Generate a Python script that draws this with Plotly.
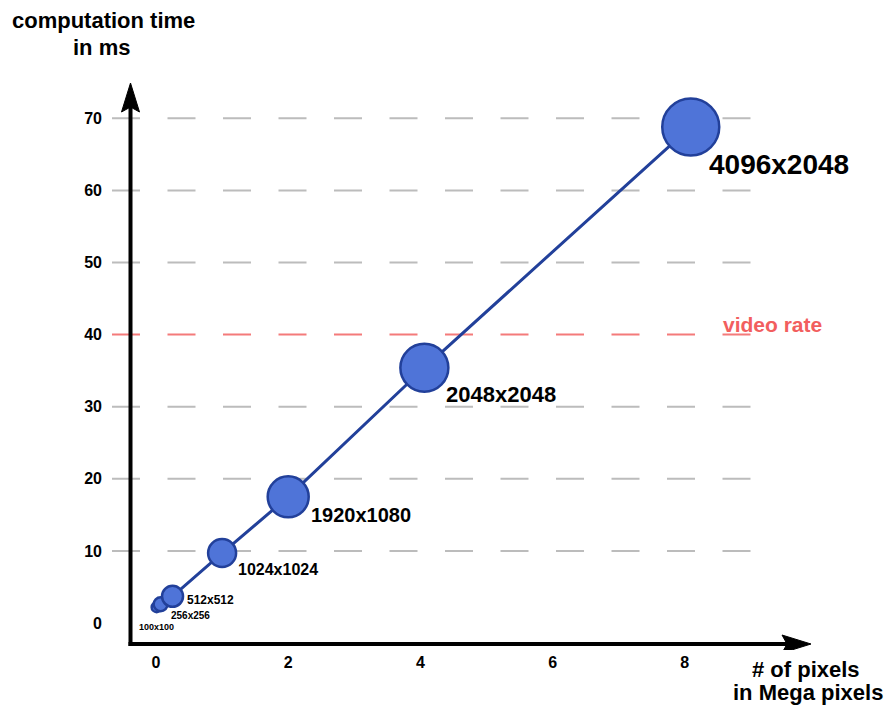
import plotly.graph_objects as go

# ---------------- data ----------------
resolutions = ["100x100", "256x256", "512x512", "1024x1024", "1920x1080", "2048x2048", "4096x2048"]
megapixels = [0.01, 0.07, 0.25, 1.0, 2.0, 4.06, 8.09]
time_ms = [2.2, 2.6, 3.7, 9.7, 17.5, 35.4, 68.8]
x_ticks = [0, 2, 4, 6, 8]
y_ticks = [0, 10, 20, 30, 40, 50, 60, 70]
grid_values = [10, 20, 30, 50, 60, 70]
video_rate = 40

# ---------------- styles ----------------
W, H = 888, 713
ML, MR, MT, MB = 110, 40, 60, 63
X0PX, XS = 156.0, 66.1     # pixel of x=0, pixels per unit
Y0PX, YS = 623.0, 7.21     # pixel of y=0, pixels per unit

def dx(p):
    return (p - X0PX) / XS

def dy(p):
    return (Y0PX - p) / YS

def pxp(p):
    return (p - ML) / (W - ML - MR)

def pyp(p):
    return (H - MB - p) / (H - MT - MB)

FONT = "Liberation Sans"
marker_sizes = [10, 14, 21, 28, 41, 48, 57]
label_sizes = [9, 10, 12, 16, 20, 22, 28]
label_dx = [-19, 9, 13.5, 15, 22, 20.5, 17.5]
label_dy = [-19.5, -11, -4, -16.5, -18, -26.5, -38]

fig = go.Figure()

fig.add_trace(go.Scatter(
    x=megapixels, y=time_ms, mode="lines+markers",
    line=dict(color="#22409a", width=3),
    marker=dict(size=marker_sizes, color="#4f74d8", opacity=1,
                line=dict(color="#22409a", width=2.5)),
    hoverinfo="skip", showlegend=False,
))

shapes = []
# dashed gray grid lines
for g in grid_values:
    shapes.append(dict(type="line", xref="x", yref="y", x0=dx(112), x1=dx(751),
                       y0=g, y1=g, layer="below",
                       line=dict(color="#bcbcbc", width=2, dash="28px,27.5px")))
# video rate line
shapes.append(dict(type="line", xref="x", yref="y", x0=dx(112), x1=dx(751),
                   y0=video_rate, y1=video_rate, layer="below",
                   line=dict(color="#f47a7a", width=2, dash="28px,27.5px")))

# axes with arrows
AX_X = 130.5
AX_Y = 644
shapes.append(dict(type="line", xref="x", yref="y", x0=dx(AX_X), x1=dx(AX_X),
                   y0=dy(AX_Y + 2), y1=dy(100), line=dict(color="black", width=4)))
shapes.append(dict(type="line", xref="x", yref="y", x0=dx(AX_X - 2), x1=dx(795),
                   y0=dy(AX_Y), y1=dy(AX_Y), line=dict(color="black", width=4)))
shapes.append(dict(type="path", xref="x", yref="y", xsizemode="pixel", ysizemode="pixel",
                   xanchor=dx(AX_X), yanchor=dy(83),
                   path="M0,0 L-9,-29 L0,-24 L9,-29 Z",
                   fillcolor="black", line=dict(color="black", width=1)))
shapes.append(dict(type="path", xref="x", yref="y", xsizemode="pixel", ysizemode="pixel",
                   xanchor=dx(811), yanchor=dy(AX_Y),
                   path="M0,0 L-29,9 L-24,0 L-29,-9 Z",
                   fillcolor="black", line=dict(color="black", width=1)))

annotations = []
for name, xv, yv, fs, ox, oy in zip(resolutions, megapixels, time_ms, label_sizes, label_dx, label_dy):
    annotations.append(dict(x=xv, y=yv, xref="x", yref="y", text=name, showarrow=False,
                            xanchor="left", yanchor="middle", xshift=ox, yshift=oy,
                            borderpad=0,
                            font=dict(family=FONT, size=fs, color="black", weight="bold")))

annotations.append(dict(x=pxp(722), y=pyp(331.7 - 0.35 * 21), xref="paper", yref="paper",
                        text="video rate", showarrow=False, xanchor="left", yanchor="middle",
                        borderpad=0,
                        font=dict(family=FONT, size=21, color="#f25e5e", weight="bold")))

def title_line(text, cx, baseline, fs=22):
    return dict(x=pxp(cx), y=pyp(baseline - 0.35 * fs), xref="paper", yref="paper",
                text=text, showarrow=False, xanchor="center", yanchor="middle", borderpad=0,
                font=dict(family=FONT, size=fs, color="black", weight="bold"))

annotations.append(title_line("computation time", 103.5, 28))
annotations.append(title_line("in ms", 101.5, 55))
annotations.append(title_line("# of pixels", 806, 677))
annotations.append(title_line("in Mega pixels", 807.5, 700))

fig.update_layout(
    width=W, height=H,
    margin=dict(l=ML, r=MR, t=MT, b=MB, autoexpand=False),
    paper_bgcolor="white", plot_bgcolor="white",
    shapes=shapes, annotations=annotations,
    xaxis=dict(range=[dx(ML), dx(W - MR)], tickvals=x_ticks, ticktext=[str(v) for v in x_ticks],
               showgrid=False, zeroline=False, showline=False, ticks="",
               ticklabelstandoff=1,
               tickfont=dict(family=FONT, size=16, color="black", weight="bold")),
    yaxis=dict(range=[dy(H - MB), dy(MT)], tickvals=y_ticks, ticktext=[str(v) for v in y_ticks],
               showgrid=False, zeroline=False, showline=False, ticks="",
               ticklabelstandoff=7,
               tickfont=dict(family=FONT, size=16, color="black", weight="bold")),
)

fig.write_html("out.html",
               config={"displayModeBar": False},
               post_script="document.body.style.margin='0';document.body.style.padding='0';")
